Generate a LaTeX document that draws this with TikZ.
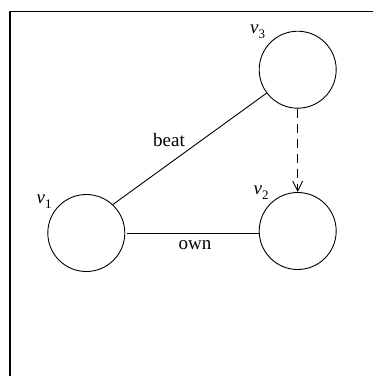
\documentclass[tikz,border=0pt]{standalone}
\usepackage{fontspec}
\setmainfont{Liberation Serif}
\usetikzlibrary{arrows.meta}
\tikzset{
  vert/.style={draw, circle, line width=0.9pt, minimum size=77pt, inner sep=0pt},
  lbl/.style={inner sep=0pt, anchor=base west, font=\fontsize{19}{19}\selectfont},
  elbl/.style={inner sep=0pt, anchor=base, font=\fontsize{19}{19}\selectfont},
  conn/.style={line width=0.9pt},
}
\newcommand{\vlab}[1]{\textit{v}\raisebox{-0.25em}{\fontsize{13}{13}\selectfont #1}}
\begin{document}
\begin{tikzpicture}[x=1pt,y=-1pt]
\useasboundingbox (0,0) rectangle (373,376);
\begin{scope}
\clip (0,0) rectangle (373,376);
\draw[line width=1.1pt] (10,11.5) rectangle (390,400);
\end{scope}
\node[vert] (v1) at (86.3,233) {};
\node[vert] (v2) at (297.7,231) {};
\node[vert] (v3) at (297.7,69.7) {};
\node[lbl] (l1) at (36.5,203.5) {\vlab{1}};
\node[lbl] (l2) at (253.5,194.5) {\vlab{2}};
\node[lbl] (l3) at (250,33.5) {\vlab{3}};
\draw[conn] ([xshift=1.5pt]v1.east) -- ([xshift=1.5pt]v1.east -| v2.west);
\draw[conn] (v3.217) -- (v1.47);
\draw[conn, dash pattern=on 9pt off 6pt, -{Straight Barb[length=10pt,width=10pt]}] (v3.south) -- (v2.north);
\node[elbl] (beat) at (169,146) {beat};
\node[elbl] (own) at (195,249) {own};
\end{tikzpicture}
\end{document}
